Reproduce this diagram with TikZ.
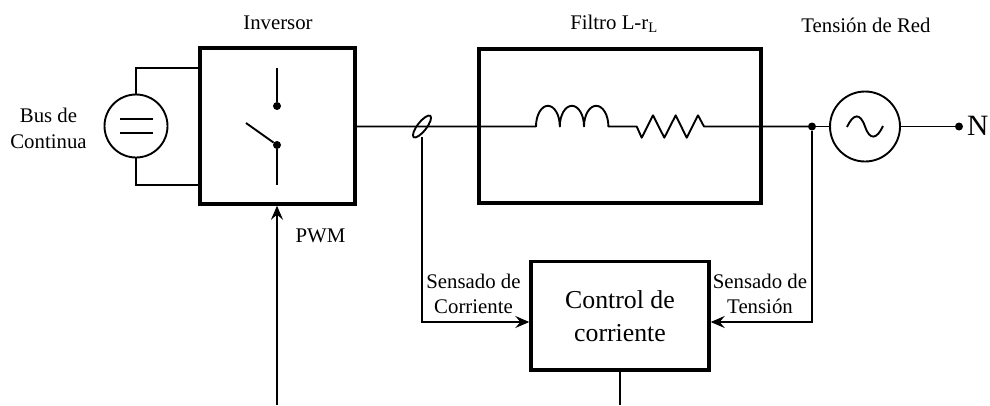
\documentclass[tikz,border=0pt]{standalone}
\usepackage{fontspec}
\setmainfont{Liberation Serif}
\usetikzlibrary{arrows.meta,shapes.geometric}
\tikzset{
  x=1pt,y=-1pt,
  wire/.style={line width=1.9pt,black},
  block/.style={draw,line width=3.6pt,inner sep=0pt,outer sep=0pt,anchor=north west},
  src/.style={draw,circle,line width=1.9pt,minimum size=63pt,inner sep=0pt,outer sep=0pt},
  junction/.style={circle,fill=black,inner sep=0pt,minimum size=8pt},
  lbl/.style={font=\fontsize{20.8pt}{25.7pt}\selectfont,align=center,inner sep=0pt},
  arr/.style={wire,shorten >=1.7pt,-{Stealth[length=14pt,width=12pt,inset=5pt]}},
}
\begin{document}
\begin{tikzpicture}
\useasboundingbox (0,0) rectangle (990,405);
% blocks
\node[block,minimum width=155pt,minimum height=156pt] (inv) at (200,48) {};
\node[block,minimum width=282pt,minimum height=154pt] (fil) at (479,49) {};
\node[block,minimum width=178pt,minimum height=108.5pt,align=center,font=\fontsize{25.8pt}{33pt}\selectfont] (ctl) at (531,261.5) {Control de\\corriente};
% sources
\node[src] (dc) at (136,126) {};
\node[src,minimum size=70pt] (ac) at (865,126.5) {};
% DC links
\draw[wire] (dc.north) -- (136,68) -- (inv.west |- 136,68);
\draw[wire] (dc.south) -- (136,185) -- (inv.west |- 136,185);
\draw[wire] (120,119) -- (153,119) (120,133) -- (153,133);
% switch
\node[junction] (s1) at (277,106) {};
\node[junction] (s2) at (277,145) {};
\coordinate (st) at (277,68);
\coordinate (sb) at (277,185);
\coordinate (sl) at (246,123);
\draw[wire] (st) -- (s1);
\draw[wire] (s2) -- (sb);
\draw[wire] (s2) -- (sl);
% main wire
\node[draw,ellipse,line width=1.9pt,minimum width=27pt,minimum height=9pt,inner sep=0pt,rotate=52] (ct) at (422,126.5) {};
\coordinate (ccw) at (422,322);
\draw[wire,line join=round] (355,126.5) -- (536,126.5)
  arc[start angle=180,end angle=0,x radius=11.9pt,y radius=20.7pt]
  arc[start angle=180,end angle=0,x radius=12.1pt,y radius=20.7pt]
  arc[start angle=180,end angle=0,x radius=12.2pt,y radius=20.7pt]
  -- (636.7,126.5)
  -- (641.7,137.7) -- (653,115.3) -- (664.3,137.7) -- (675.7,115.3) -- (686.7,137.7) -- (698,115.3) -- (704,126.5) -- (812,126.5);
\node[junction] (j) at (812,126.5) {};
\draw[wire] (j) -- (ac);
\node[junction] (nd) at (959,126.5) {};
\draw[wire] (ac) -- (nd);
\draw[wire] (847,127) .. controls (853,114) and (860,112) .. (865,126.5) .. controls (870,141) and (877,139) .. (883,126);
% sense lines
\coordinate (cts) at (422,137);
\draw[arr] (cts) -- (ccw) -- (ctl.west |- ccw);
\draw[arr] (j) -- (812,322) -- (ctl.east |- ccw);
% PWM
\coordinate (pb) at (277,405);
\coordinate (cb) at (620,405);
\draw[arr] (pb) -- (inv.south -| pb);
\draw[wire] (ctl.south -| cb) -- (cb);
% labels
\node[lbl] (l1) at (278,23) {Inversor};
\node[lbl] (l2) at (614,24) {Filtro L-r\textsubscript{L}};
\node[lbl] (l3) at (866,25) {Tensión de Red};
\node[lbl] (l4) at (48.5,128.5) {Bus de\\Continua};
\node[lbl] (l5) at (320.5,236) {PWM};
\node[lbl] (l6) at (473.5,294) {Sensado de\\Corriente};
\node[lbl] (l7) at (760,294) {Sensado de\\Tensión};
\node[inner sep=0pt,font=\fontsize{29.5pt}{30pt}\selectfont] (l8) at (977.8,125.5) {N};
\end{tikzpicture}
\end{document}
